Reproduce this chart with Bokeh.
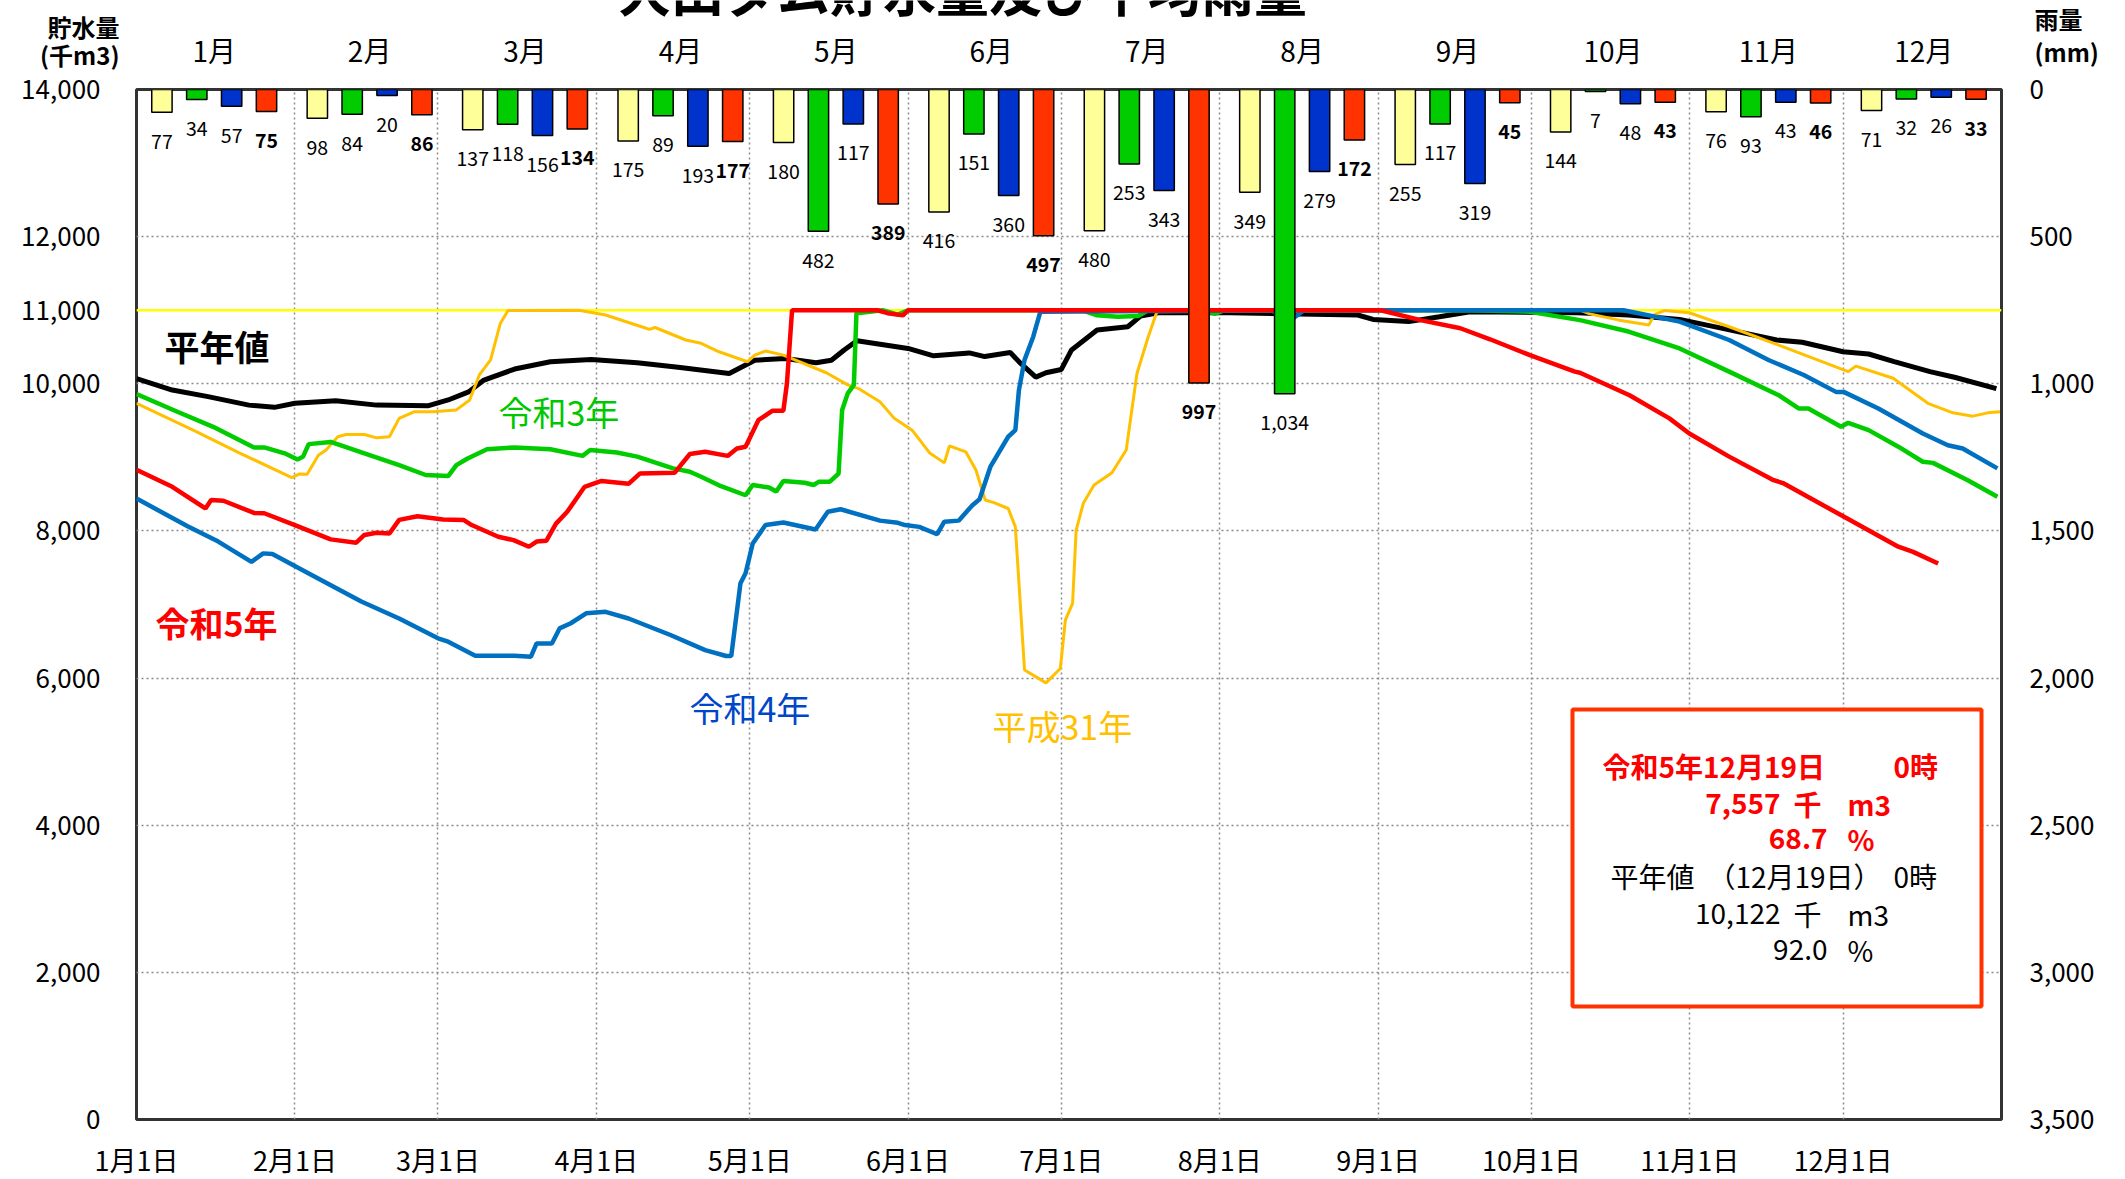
from bokeh.plotting import figure
from bokeh.layouts import column
from bokeh.models import (Range1d, LinearAxis, FixedTicker, NumeralTickFormatter,
                          Label, BoxAnnotation, Span, ColumnDataSource)
from bokeh.core.properties import value
from bokeh.embed import file_html
from bokeh.resources import INLINE

FONT = "Noto Sans CJK JP"

TITLE = "大山ダム貯水量及び平均雨量"
MONTHS = ["1月", "2月", "3月", "4月", "5月", "6月", "7月", "8月", "9月", "10月", "11月", "12月"]
DATE_LABELS = ["1月1日", "2月1日", "3月1日", "4月1日", "5月1日", "6月1日", "7月1日",
               "8月1日", "9月1日", "10月1日", "11月1日", "12月1日"]
MONTH_START_DAYS = [0, 31, 59, 90, 120, 151, 181, 212, 243, 273, 304, 334]
STORAGE_TICKS = [0, 2000, 4000, 6000, 8000, 10000, 11000, 12000, 14000]
GRID_TICKS = [2000, 4000, 6000, 8000, 10000, 12000]
RAIN_TICKS = [0, 500, 1000, 1500, 2000, 2500, 3000, 3500]
CAPACITY = 11000
LEFT_UNITS = ["貯水量", "(千m3)"]
RIGHT_UNITS = ["雨量", "(mm)"]

# monthly rainfall (mm)
RAIN_H31 = [77, 98, 137, 175, 180, 416, 480, 349, 255, 144, 76, 71]
RAIN_R3 = [34, 84, 118, 89, 482, 151, 253, 1034, 117, 7, 93, 32]
RAIN_R4 = [57, 20, 156, 193, 117, 360, 343, 279, 319, 48, 43, 26]
RAIN_R5 = [75, 86, 134, 177, 389, 497, 997, 172, 45, 43, 46, 33]

# storage (thousand m3) by day of year
AVG_DAY = [0, 7, 14, 22, 27, 31, 39, 47, 57, 61, 65, 68, 74, 81, 89, 98, 106, 116, 121, 127, 133,
           136, 138.5, 141, 151, 156, 163, 166, 171, 173, 176, 178, 181, 183, 188, 194, 196.5, 200,
           214, 239, 242, 249, 255, 261, 282, 292, 302, 312, 321, 326, 334, 339, 344, 351, 356, 364]
AVG_VAL = [10070, 9915, 9825, 9710, 9680, 9735, 9770, 9710, 9700, 9780, 9890, 10050, 10200, 10300,
           10330, 10285, 10225, 10140, 10320, 10345, 10285, 10320, 10460, 10585, 10480, 10380, 10420,
           10370, 10425, 10280, 10090, 10150, 10195, 10460, 10730, 10775, 10920, 10965, 10965, 10935,
           10875, 10845, 10910, 10980, 10965, 10935, 10875, 10730, 10595, 10565, 10435, 10405, 10300,
           10165, 10085, 9935]

R3_DAY = [0, 8, 15, 23, 25, 29, 31.5, 32.6, 33.7, 38, 44.6, 51.4, 56.6, 61, 62.6, 64.8, 68.6, 74, 81,
          87.3, 88.8, 94, 98, 105, 108.3, 110.5, 114, 119.2, 120.6, 123.8, 125.2, 126.6, 130.8, 132.5,
          133.6, 135.7, 137.4, 138.1, 139.2, 140.4, 140.9, 146, 149, 151, 185, 188, 192, 196, 198,
          209, 211, 213, 261, 272.7, 282.5, 292, 302, 311.7, 321.4, 325.3, 327.2, 333.6, 335, 339,
          344.8, 349.6, 351.6, 358.4, 364.2]
R3_VAL = [9860, 9620, 9415, 9135, 9135, 9055, 8970, 9010, 9180, 9210, 9055, 8895, 8760, 8745, 8895,
          8985, 9110, 9135, 9110, 9020, 9100, 9065, 9010, 8850, 8805, 8737, 8620, 8485, 8625, 8590,
          8535, 8680, 8655, 8625, 8670, 8670, 8780, 9645, 9870, 9985, 10960, 11000, 10940, 11000,
          11000, 10930, 10910, 10920, 11000, 11000, 10950, 11000, 11000, 10980, 10865, 10710, 10480,
          10165, 9845, 9665, 9665, 9415, 9470, 9370, 9145, 8940, 8925, 8690, 8465]

R4_DAY = [0, 10, 16, 22.5, 24.8, 26.6, 35, 44, 51.4, 59, 61, 66.3, 74, 77.2, 78.3, 81.3, 82.8, 85, 88,
          91.8, 96.3, 104.5, 111.3, 115.4, 116.4, 118.2, 119.2, 120.6, 123.1, 126.6, 132.9, 135.3,
          137.8, 145.5, 149, 150.4, 153.2, 156.7, 158.1, 160.9, 163.6, 165, 167.1, 170.6, 172, 172.7,
          173.8, 175.5, 176.9, 222, 226, 228.5, 291, 302, 311.7, 319.5, 326.3, 332.6, 334.1, 340.9,
          349.6, 354.5, 357.4, 364.2]
R4_VAL = [8440, 8065, 7855, 7580, 7695, 7685, 7375, 7040, 6810, 6540, 6495, 6305, 6305, 6290, 6470,
          6470, 6675, 6745, 6880, 6900, 6810, 6585, 6380, 6300, 6300, 7290, 7425, 7830, 8080, 8115,
          8020, 8260, 8295, 8140, 8110, 8080, 8055, 7955, 8125, 8140, 8350, 8430, 8870, 9280, 9370,
          9915, 10325, 10640, 10980, 11000, 10870, 11000, 11000, 10845, 10595, 10320, 10120, 9890,
          9890, 9665, 9325, 9165, 9120, 8850]

R5_DAY = [0, 7, 13.5, 14.6, 17, 23, 25, 31, 38, 43, 44.6, 47, 49.5, 51.4, 55, 60, 64, 65.6, 70.8,
          73.8, 76.8, 78.3, 80.2, 82.1, 84.3, 87.7, 91, 96.3, 98.5, 105.3, 108.3, 111.3, 115.7, 117.5,
          119.2, 121.7, 124.5, 126.6, 127.3, 128.3, 145, 147, 150, 151, 243.5, 251.3, 259.1, 264.9,
          272.7, 281.5, 282.5, 292.2, 300, 303.9, 311.7, 320.4, 322.4, 334.1, 344.8, 347.7, 352.6]
R5_VAL = [8830, 8600, 8305, 8420, 8410, 8245, 8240, 8080, 7885, 7840, 7945, 7975, 7965, 8150, 8200,
          8155, 8150, 8080, 7920, 7875, 7785, 7855, 7865, 8100, 8260, 8600, 8680, 8640, 8780, 8790,
          9045, 9075, 9020, 9120, 9145, 9505, 9635, 9635, 10005, 11000, 11000, 10960, 10930, 11000,
          11000, 10865, 10755, 10605, 10390, 10165, 10150, 9845, 9530, 9325, 9010, 8690, 8645, 8195,
          7785, 7715, 7557]

H31_DAY = [0, 11.7, 20, 30.4, 31.9, 33.4, 35.6, 37.1, 39.4, 41, 44.6, 47, 49.5, 51.4, 54.4, 58, 62.6,
           65.2, 67.1, 69.3, 71.2, 72.7, 86.6, 91.8, 99.3, 100.4, 101.5, 107.5, 110.5, 114, 119.6, 121,
           123.1, 126.6, 135, 139.2, 141.3, 145.5, 148.3, 151.8, 155.3, 158.1, 159.1, 162.3, 164.3,
           166.1, 167.8, 170.6, 172, 173.8, 178, 180.8, 181.8, 183.2, 183.9, 185.3, 187.4, 190.9,
           193.7, 195.8, 197.9, 199.7, 282.5, 284.4, 290.2, 296, 297, 299, 303.9, 311.7, 321.4, 327.3,
           335, 336.5, 343.8, 350.6, 355.5, 359.4, 362.3, 364.7]
H31_VAL = [9735, 9350, 9065, 8725, 8775, 8770, 9030, 9100, 9280, 9310, 9310, 9265, 9280, 9530, 9620,
           9620, 9645, 9780, 10120, 10325, 10820, 10995, 11000, 10935, 10765, 10740, 10765, 10595,
           10550, 10435, 10300, 10390, 10445, 10390, 10150, 9985, 9935, 9755, 9530, 9370, 9055, 8925,
           9155, 9075, 8825, 8420, 8385, 8305, 8055, 6110, 5935, 6130, 6790, 7015, 8010, 8375, 8625,
           8790, 9100, 10140, 10615, 10980, 11000, 10950, 10865, 10800, 10935, 10995, 10965, 10775,
           10525, 10370, 10165, 10240, 10075, 9735, 9605, 9560, 9605, 9620]

# ---------------- layout (page pixels; the page has no margin) ----------------
ML, MR, MB = 136, 117, 60
FW, FH = 1865, 1030
HH = 71            # height of the header strip
MT = 18            # top border of main figure
TOTAL_W = ML + FW + MR
FT = HH + MT       # frame top on the page


def px2x(px):
    return (px - ML) / FW * 365.0


def py2y(py):
    return (FT + FH - py) / FH * 14000.0


def style_axis(ax, size, standoff, bold=False):
    ax.axis_line_color = None
    ax.major_tick_line_color = None
    ax.minor_tick_line_color = None
    ax.major_tick_out = 0
    ax.major_tick_in = 0
    ax.major_label_text_font = FONT
    ax.major_label_text_font_size = size
    ax.major_label_text_color = "black"
    ax.major_label_standoff = standoff
    if bold:
        ax.major_label_text_font_style = "bold"


# ---------------- header strip (title, units, month names) ----------------
h = figure(width=TOTAL_W, height=HH, min_border_left=ML, min_border_right=MR,
           min_border_top=0, min_border_bottom=0,
           x_range=Range1d(0, 365), y_range=Range1d(HH, 0), x_axis_type=None, y_axis_type=None,
           output_backend="svg", toolbar_location=None, tools="")
if h.title is not None:
    h.title.visible = False
h.outline_line_color = None
h.extra_x_ranges = {"cat": Range1d(0, 12)}
UNIT_Y_LEFT = [26, 57]
UNIT_Y_RIGHT = [16, 51]
hl = LinearAxis(ticker=FixedTicker(ticks=UNIT_Y_LEFT),
                major_label_overrides={y: t for y, t in zip(UNIT_Y_LEFT, LEFT_UNITS)})
style_axis(hl, "24px", 17, bold=True)
h.add_layout(hl, "left")
hr = LinearAxis(ticker=FixedTicker(ticks=UNIT_Y_RIGHT),
                major_label_overrides={y: t for y, t in zip(UNIT_Y_RIGHT, RIGHT_UNITS)})
style_axis(hr, "24px", 33, bold=True)
h.add_layout(hr, "right")

h.text(x=[px2x(962)], y=[26], text=[TITLE], text_font=value(FONT), text_font_size="53px",
       text_font_style="bold", text_align="center", text_baseline="bottom", text_color="black")
h.text(x=[i + 0.5 for i in range(12)], y=[49] * 12, text=MONTHS, x_range_name="cat",
       text_font=value(FONT), text_font_size="28px", text_align="center",
       text_baseline="middle", text_color="black")

# ---------------- main chart ----------------
p = figure(frame_width=FW, frame_height=FH, min_border_left=ML, min_border_right=MR,
           min_border_top=MT, min_border_bottom=MB,
           x_range=Range1d(0, 365), y_range=Range1d(0, 14000),
           output_backend="svg", toolbar_location=None, tools="")
if p.title is not None:
    p.title.visible = False
p.extra_x_ranges = {"cat": Range1d(0, 12)}
p.extra_y_ranges = {"rain": Range1d(3500, 0)}
p.background_fill_color = "white"
p.border_fill_color = "white"
p.outline_line_color = "#333333"
p.outline_line_width = 3

xb = p.below[0]
xb.ticker = FixedTicker(ticks=MONTH_START_DAYS)
xb.major_label_overrides = {d: lab for d, lab in zip(MONTH_START_DAYS, DATE_LABELS)}
style_axis(xb, "27px", 20)

yl = p.left[0]
yl.ticker = FixedTicker(ticks=STORAGE_TICKS)
yl.formatter = NumeralTickFormatter(format="0,0")
style_axis(yl, "26px", 36)

yr = LinearAxis(y_range_name="rain", ticker=FixedTicker(ticks=RAIN_TICKS),
                formatter=NumeralTickFormatter(format="0,0"))
style_axis(yr, "26px", 28)
p.add_layout(yr, "right")

p.xgrid.ticker = FixedTicker(ticks=MONTH_START_DAYS[1:])
p.ygrid.ticker = FixedTicker(ticks=GRID_TICKS)
for g in (p.xgrid, p.ygrid):
    g.grid_line_color = "#8a8a8a"
    g.grid_line_dash = "2 3"
    g.grid_line_width = 1.5

p.add_layout(Span(location=CAPACITY, dimension="width", line_color="#ffff00",
                  line_width=2.5, level="underlay"))

p.line(AVG_DAY, AVG_VAL, line_color="black", line_width=5)
p.line(H31_DAY, H31_VAL, line_color="#ffc000", line_width=3)
p.line(R3_DAY, R3_VAL, line_color="#00cc00", line_width=4.5)
p.line(R4_DAY, R4_VAL, line_color="#0070c0", line_width=4.5)
p.line(R5_DAY, R5_VAL, line_color="#ff0000", line_width=4.5)

BAR_SPACING = 0.2243
BAR_WIDTH = 0.131
LABEL_GAP = 98
series = [(RAIN_H31, "#ffff99", "normal"), (RAIN_R3, "#00cc00", "normal"),
          (RAIN_R4, "#0033cc", "normal"), (RAIN_R5, "#ff3300", "bold")]
for k, (vals, col, fstyle) in enumerate(series):
    xs = [i + 0.5 + (k - 1.5) * BAR_SPACING for i in range(12)]
    src = ColumnDataSource(dict(x=xs, v=vals, ly=[v + LABEL_GAP for v in vals],
                                t=[f"{v:,}" for v in vals]))
    p.vbar(x="x", width=BAR_WIDTH, top=0, bottom="v", source=src, fill_color=col,
           line_color="black", line_width=1.5, x_range_name="cat", y_range_name="rain")
    p.text(x="x", y="ly", text="t", source=src, x_range_name="cat", y_range_name="rain",
           text_align="center", text_baseline="middle", text_font=value(FONT),
           text_font_size="19.5px", text_font_style=fstyle, text_color="black")


def add_label(px, py, text, size, color="black", style="normal", align="left"):
    p.add_layout(Label(x=px2x(px), y=py2y(py), text=text, text_font=FONT, text_font_size=size,
                       text_color=color, text_font_style=style, text_align=align,
                       text_baseline="middle"))


add_label(164, 345, "平年値", "35px", style="bold")
add_label(498, 411, "令和3年", "34px", color="#00c800")
add_label(155, 622, "令和5年", "34px", color="#ff0000", style="bold")
add_label(689, 707, "令和4年", "34px", color="#0047c8")
add_label(992, 725, "平成31年", "34px", color="#ffc000")

p.add_layout(BoxAnnotation(left=px2x(1572), right=px2x(1981), top=py2y(709), bottom=py2y(1006),
                           fill_color="white", fill_alpha=1.0, line_color="#ff3300",
                           line_alpha=1.0, line_width=4))
RED = "#ff0000"
add_label(1602, 765, "令和5年12月19日", "28px", RED, "bold")
add_label(1893, 765, "0時", "28px", RED, "bold")
add_label(1780, 803, "7,557", "28px", RED, "bold", align="right")
add_label(1793, 803, "千", "28px", RED, "bold")
add_label(1847, 803, "m3", "28px", RED, "bold")
add_label(1827, 838, "68.7", "28px", RED, "bold", align="right")
add_label(1847, 838, "%", "28px", RED, "bold")
add_label(1610, 875, "平年値", "28px")
add_label(1794, 875, "（12月19日）", "28px", align="center")
add_label(1893, 875, "0時", "28px")
add_label(1780, 913, "10,122", "28px", align="right")
add_label(1793, 913, "千", "28px")
add_label(1847, 913, "m3", "28px")
add_label(1827, 949, "92.0", "28px", align="right")
add_label(1847, 949, "%", "28px")

layout = column(h, p, spacing=0)
open("out.html", "w").write(file_html(layout, INLINE))
